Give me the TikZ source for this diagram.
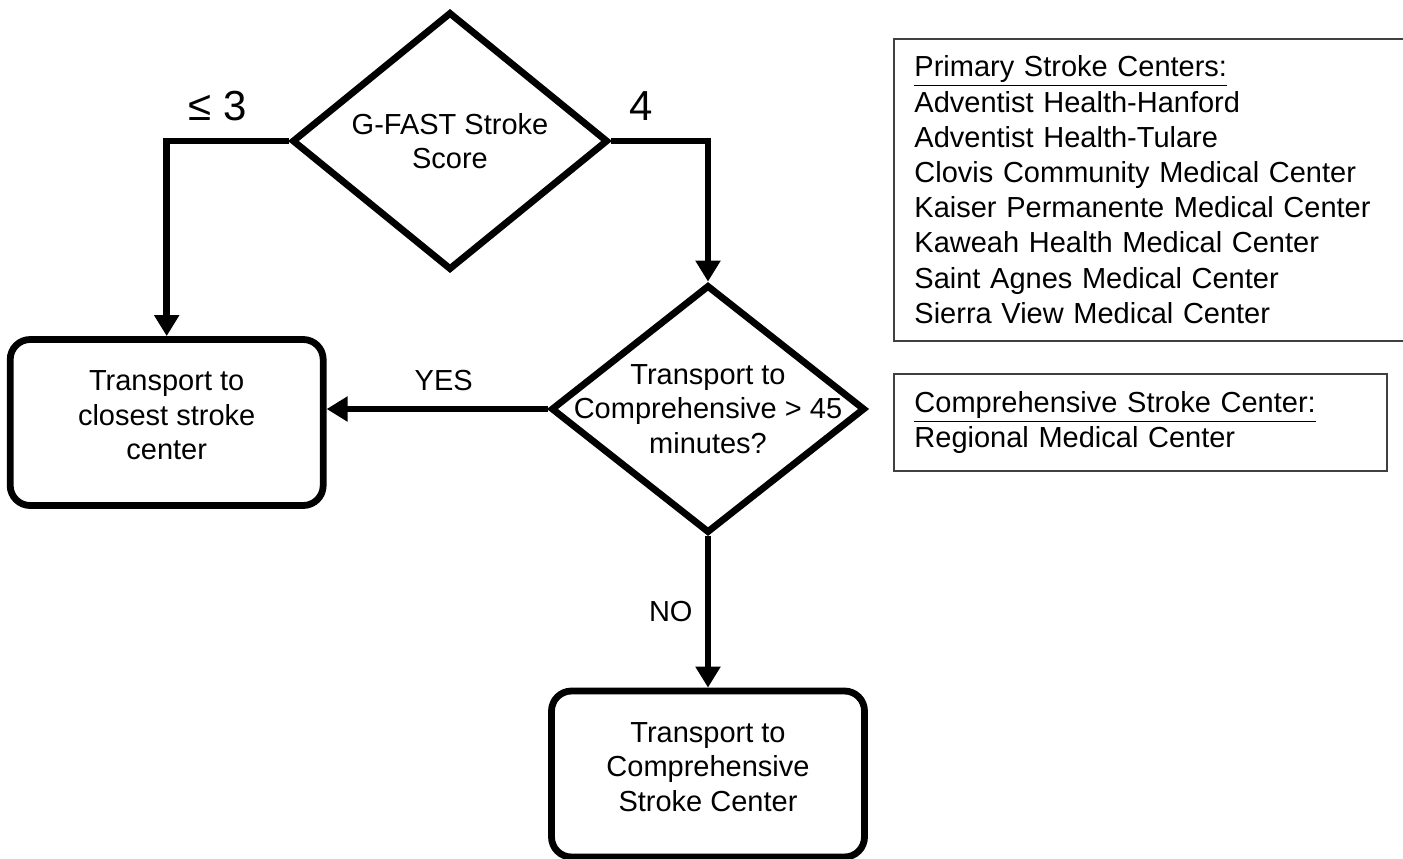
\documentclass[tikz,border=0pt]{standalone}
\usepackage{fontspec}
\setmainfont{Liberation Sans}
\usetikzlibrary{shapes.geometric,arrows.meta}
\tikzset{
  decision/.style={diamond, draw, line width=3.4pt, inner sep=0pt},
  endbox/.style={rectangle, draw, line width=3.4pt, rounded corners=10pt,
    minimum width=156.5pt, minimum height=83pt, align=center, text depth=7pt,
    font=\fontsize{14.5}{17.25}\selectfont},
  flow/.style={line width=3.4pt, -{Triangle[length=10.5pt,width=12pt]}},
  infobox/.style={rectangle, draw=black!75, line width=0.75pt, anchor=north west,
    align=left, inner xsep=10.35pt, font=\fontsize{14.5}{17.6}\selectfont},
  qtext/.style={align=center, font=\fontsize{14.5}{17.25}\selectfont},
  lbl/.style={font=\fontsize{14.5}{17.25}\selectfont},
  bignum/.style={font=\fontsize{21}{25}\selectfont}
}
\begin{document}
\begin{tikzpicture}[x=0.5pt,y=-0.5pt]
  % 画像の大きさ
  \useasboundingbox (0,0) rectangle (1403,858);
  % G-FASTのひし形
  \node[decision, minimum width=158pt, minimum height=129pt,
    label={[qtext]center:G-FAST Stroke\\Score}] (gfast) at (450,141) {};
  % 45分の判定のひし形
  \node[decision, minimum width=157pt, minimum height=124pt,
    label={[qtext]center:Transport to\\Comprehensive > 45\\minutes?}] (transq) at (708,409) {};
  % 最寄りの施設へ
  \node[endbox] (closest) at (166.7,422.5) {Transport to\\closest stroke\\center};
  % 包括的センターへ
  \node[endbox] (comp) at (708,774) {Transport to\\Comprehensive\\Stroke Center};
  % 一次脳卒中センターの一覧
  \node[infobox, text width=237pt, minimum height=151pt] (primary) at (893,38)
    {\underline{Primary Stroke Centers:}\\
     Adventist Health-Hanford\\
     Adventist Health-Tulare\\
     Clovis Community Medical Center\\
     Kaiser Permanente Medical Center\\
     Kaweah Health Medical Center\\
     Saint Agnes Medical Center\\
     Sierra View Medical Center};
  % 包括的脳卒中センター
  \node[infobox, text width=226pt, minimum height=48.65pt] (csc) at (893,373)
    {\underline{Comprehensive Stroke Center:}\\
     Regional Medical Center};
  % 矢印
  \draw[flow] (gfast.west) -| node[pos=0.29, above=5pt, bignum] (low) {≤ 3} (closest.north);
  \draw[flow] (gfast.east) -| node[pos=0.155, above=5pt, bignum] (high) {4} (transq.north);
  \draw[flow] (transq.west) -- node[pos=0.47, above=4pt, lbl] (yes) {YES} (transq.west -| closest.east);
  \draw[flow] (transq.south) -- node[left=2.7pt, lbl] (no) {NO} (comp.north);
\end{tikzpicture}
\end{document}
